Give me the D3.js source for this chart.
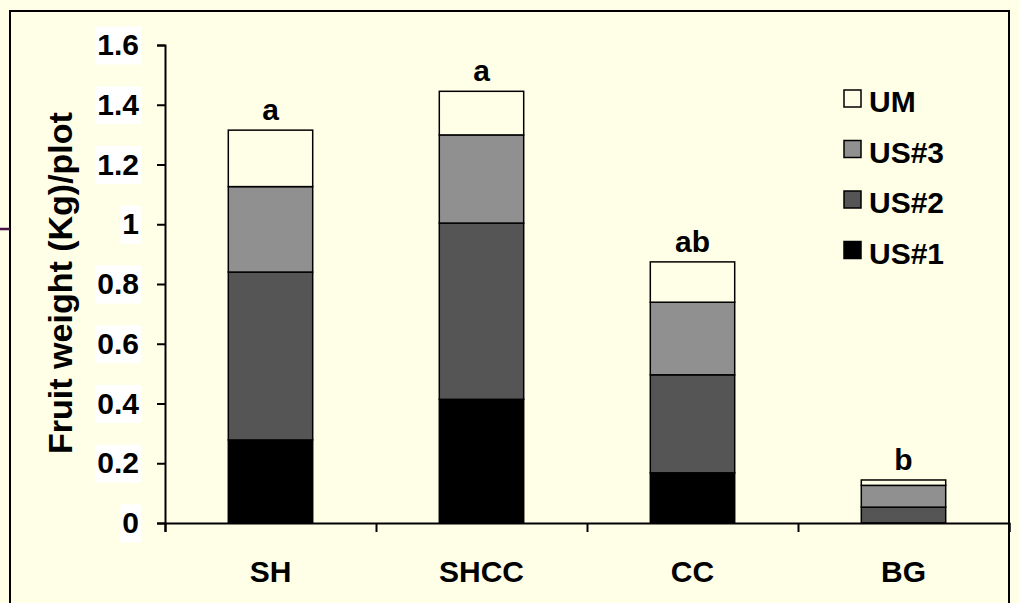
<!DOCTYPE html>
<html>
<head>
<meta charset="utf-8">
<script src="https://cdn.jsdelivr.net/npm/d3@7"></script>
<style>
body { margin: 0; background: #FFFFE7; }
svg text { font-family: "Liberation Sans", Arial, sans-serif; font-weight: bold; fill: #000; }
</style>
</head>
<body>
<script>
var w = 1019;
var h = 603;
var bg = '#FFFFE7';

// data
var categories = ['SH', 'SHCC', 'CC', 'BG'];
var us1 = [0.278, 0.414, 0.168, 0.0];
var us2 = [0.562, 0.590, 0.328, 0.053];
var us3 = [0.286, 0.295, 0.243, 0.073];
var um = [0.189, 0.146, 0.135, 0.018];
var letters = ['a', 'a', 'ab', 'b'];
var yTicks = [0, 0.2, 0.4, 0.6, 0.8, 1, 1.2, 1.4, 1.6];
var keys = ['US#1', 'US#2', 'US#3', 'UM'];
var colors = ['#000000', '#555555', '#909090', bg];

var rows = categories.map(function(c, i) {
	return { cat: c, 'US#1': us1[i], 'US#2': us2[i], 'US#3': us3[i], 'UM': um[i] };
});

var plotL = 165, plotR = 1009, plotT = 45, plotB = 523;

var svg = d3.select('body')
			.append('svg')
			.attr('width', w)
			.attr('height', h);

svg.append('rect')
	.attr('width', w).attr('height', h)
	.attr('fill', bg);

// outer frame and the purple stub on the left
svg.append('rect')
	.attr('x', 10).attr('y', 11)
	.attr('width', 999).attr('height', 620)
	.attr('fill', 'none')
	.attr('stroke', '#000')
	.attr('stroke-width', 2);
svg.append('line')
	.attr('x1', 0).attr('x2', 10)
	.attr('y1', 229).attr('y2', 229)
	.attr('stroke', '#4a1048')
	.attr('stroke-width', 2.5);

var x = d3.scaleBand()
		.domain(categories)
		.range([plotL, plotR])
		.paddingInner(0.6)
		.paddingOuter(0.3);

var xb = d3.scaleLinear().domain([0, categories.length]).range([plotL, plotR]);

var y = d3.scaleLinear().domain([0, 1.6]).range([plotB, plotT]);

var series = d3.stack().keys(keys)(rows);

svg.append('g')
	.selectAll('g')
	.data(series)
	.enter()
	.append('g')
	.attr('fill', function(d, i) { return colors[i]; })
	.selectAll('rect')
	.data(function(d) { return d; })
	.enter()
	.append('rect')
	.attr('x', function(d) { return x(d.data.cat); })
	.attr('y', function(d) { return y(d[1]); })
	.attr('width', x.bandwidth())
	.attr('height', function(d) { return y(d[0]) - y(d[1]); })
	.attr('stroke', '#000')
	.attr('stroke-width', 1.5);

// significance letters
svg.selectAll('.sig')
	.data(rows)
	.enter()
	.append('text')
	.attr('class', 'sig')
	.attr('x', function(d) { return x(d.cat) + x.bandwidth() / 2; })
	.attr('y', function(d, i) { return y(us1[i] + us2[i] + us3[i] + um[i]) - 10; })
	.attr('text-anchor', 'middle')
	.style('font-size', '30px')
	.text(function(d, i) { return letters[i]; });

// y axis
var yAxis = svg.append('g')
	.attr('transform', 'translate(' + plotL + ',0)')
	.call(d3.axisLeft(y).tickValues(yTicks).tickSize(8).tickPadding(18)
		.tickFormat(function(d) { return String(+d.toFixed(1)); }));
yAxis.select('.domain').attr('stroke-width', 2);
yAxis.selectAll('.tick line').attr('stroke-width', 2);
yAxis.selectAll('.tick text').style('font-size', '30px');
yAxis.selectAll('.tick').each(function() {
	var t = d3.select(this).select('text');
	var b = t.node().getBBox();
	d3.select(this).insert('rect', 'text')
		.attr('x', b.x - 2).attr('y', -19)
		.attr('width', b.width + 4).attr('height', 38)
		.attr('fill', '#fff');
});

// x axis: boundary ticks
var xAxis = svg.append('g')
	.attr('transform', 'translate(0,' + plotB + ')')
	.call(d3.axisBottom(xb).ticks(categories.length).tickSize(9).tickFormat(''));
xAxis.select('.domain').attr('stroke-width', 2);
xAxis.selectAll('.tick line').attr('stroke-width', 2);

svg.selectAll('.cat')
	.data(categories)
	.enter()
	.append('text')
	.attr('class', 'cat')
	.attr('x', function(d) { return x(d) + x.bandwidth() / 2; })
	.attr('y', 582)
	.attr('text-anchor', 'middle')
	.style('font-size', '30px')
	.text(function(d) { return d; });

svg.append('text')
	.attr('transform', 'translate(72,283) rotate(-90)')
	.attr('text-anchor', 'middle')
	.style('font-size', '34px')
	.text('Fruit weight (Kg)/plot');

// legend, top to bottom UM .. US#1
var legend = svg.append('g')
	.selectAll('g')
	.data(keys.slice().reverse())
	.enter()
	.append('g')
	.attr('transform', function(d, i) { return 'translate(844,' + (112 + i * 50.5) + ')'; });
legend.append('rect')
	.attr('x', 0).attr('y', -22)
	.attr('width', 17).attr('height', 17)
	.attr('fill', function(d) { return colors[keys.indexOf(d)]; })
	.attr('stroke', '#000')
	.attr('stroke-width', 1.5);
legend.append('text')
	.attr('x', 25).attr('y', 0)
	.style('font-size', '30px')
	.text(function(d) { return d; });
</script>
</body>
</html>
